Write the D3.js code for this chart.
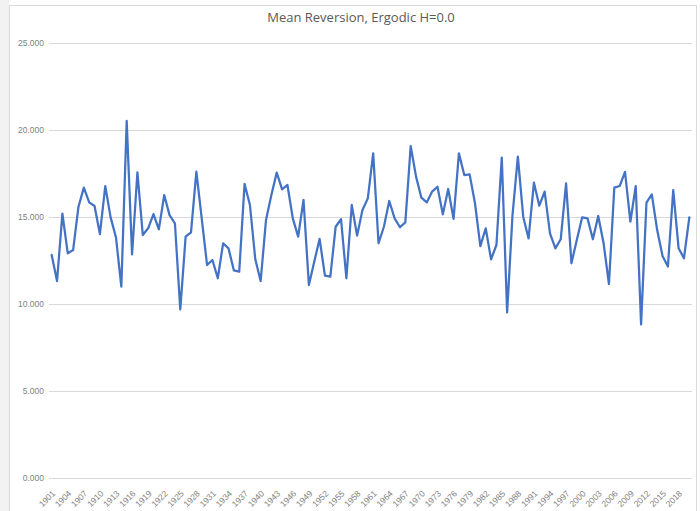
<!DOCTYPE html>
<html>
<head>
<meta charset="utf-8">
<script src="https://cdn.jsdelivr.net/npm/d3@7"></script>
<style>
  body { margin: 0; background: #fff; }
  svg { display: block; font-family: "Open Sans", "Liberation Sans", sans-serif; }
</style>
</head>
<body>
<svg id="chart" width="700" height="511"></svg>
<script>
// years 1901..2020, values
var first_year = 1901;
var values = [
  12.82, 11.32, 15.19, 12.91, 13.10, 15.59, 16.69, 15.84, 15.63, 14.02,
  16.78, 14.98, 13.83, 11.00, 20.52, 12.85, 17.57, 13.97, 14.35, 15.17,
  14.29, 16.26, 15.11, 14.64, 9.69, 13.87, 14.12, 17.61, 14.92, 12.24,
  12.53, 11.48, 13.49, 13.20, 11.93, 11.86, 16.90, 15.69, 12.57, 11.32,
  14.83, 16.26, 17.55, 16.59, 16.84, 14.92, 13.87, 15.98, 11.09, 12.43,
  13.74, 11.63, 11.57, 14.44, 14.87, 11.48, 15.69, 13.93, 15.40, 16.07,
  18.66, 13.49, 14.44, 15.92, 14.92, 14.41, 14.69, 19.08, 17.32, 16.11,
  15.84, 16.46, 16.74, 15.15, 16.61, 14.89, 18.66, 17.41, 17.45, 15.79,
  13.33, 14.35, 12.57, 13.39, 18.41, 9.52, 15.11, 18.47, 15.02, 13.77,
  16.97, 15.65, 16.46, 14.06, 13.20, 13.72, 16.93, 12.34, 13.68, 14.98,
  14.92, 13.72, 15.06, 13.49, 11.15, 16.69, 16.78, 17.59, 14.73, 16.78,
  8.83, 15.82, 16.30, 14.25, 12.76, 12.15, 16.55, 13.20, 12.63, 14.98
];
var years = values.map(function(v, i) { return first_year + i; });
var y_ticks = [0, 5, 10, 15, 20, 25];
var title_text = "Mean Reversion, Ergodic H=0.0";

var svg = d3.select("#chart");

//frame of the chart area
svg.append("rect").attr("x", 0).attr("y", 0).attr("width", 9).attr("height", 511).attr("fill", "#f2f2f2");
svg.append("rect")
    .attr("x", 9.5).attr("y", 5.5).attr("width", 687).attr("height", 510)
    .attr("fill", "#fff").attr("stroke", "#d9d9d9");

var plot = {left: 49, right: 692, top: 43, bottom: 478};

var x_scale = d3.scaleBand().domain(years).range([plot.left, plot.right]);
var y_scale = d3.scaleLinear().domain([0, 25]).range([plot.bottom, plot.top]);

//gridlines
svg.append("g").selectAll("line")
    .data(y_ticks)
    .join("line")
    .attr("x1", plot.left).attr("x2", plot.right)
    .attr("y1", function(d) { return Math.round(y_scale(d)) + 0.5; })
    .attr("y2", function(d) { return Math.round(y_scale(d)) + 0.5; })
    .attr("stroke", "#d9d9d9").attr("stroke-width", 1);

//y axis labels
var y_axis = d3.axisLeft(y_scale).tickValues(y_ticks).tickFormat(d3.format(",.3f")).tickSize(0).tickPadding(5);
var gy = svg.append("g").attr("transform", "translate(" + plot.left + ",0)").call(y_axis);
gy.select(".domain").remove();
gy.selectAll("text").attr("fill", "#7f7f7f").style("font-size", "8.5px");

//x axis labels, every third year
var x_axis = d3.axisBottom(x_scale)
    .tickValues(years.filter(function(d, i) { return i % 3 === 0; }))
    .tickSize(0).tickPadding(0);
var gx = svg.append("g").attr("transform", "translate(0," + plot.bottom + ")").call(x_axis);
gx.select(".domain").remove();
gx.selectAll("text")
    .attr("fill", "#7f7f7f").style("font-size", "8.5px")
    .attr("text-anchor", "end")
    .attr("dy", "0.35em")
    .attr("transform", "translate(2,14) rotate(-45)");

//the line
var line = d3.line()
    .x(function(d, i) { return x_scale(years[i]) + x_scale.bandwidth() / 2; })
    .y(function(d) { return y_scale(d); });

svg.append("path")
    .datum(values)
    .attr("d", line)
    .attr("fill", "none")
    .attr("stroke", "#4472c4")
    .attr("stroke-width", 2.25)
    .attr("stroke-linejoin", "round")
    .attr("stroke-linecap", "round");

//title
svg.append("text")
    .attr("x", 361).attr("y", 22)
    .attr("text-anchor", "middle")
    .attr("fill", "#595959")
    .style("font-size", "13px")
    .text(title_text);
</script>
</body>
</html>
